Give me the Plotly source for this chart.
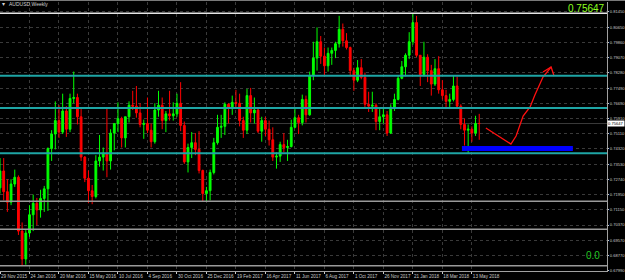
import plotly.graph_objects as go

# ---- data: AUDUSD weekly candles (bar index 0 = week of 29 Nov 2015) ----
opens = [0.7230,0.7318,0.7210,0.7155,0.7250,0.7285,0.7005,0.6860,0.6995,0.7090,
         0.7150,0.7115,0.7175,0.7225,0.7435,0.7510,0.7580,0.7520,0.7630,0.7535,
         0.7695,0.7700,0.7600,0.7390,0.7280,0.7215,0.7185,0.7370,0.7390,0.7410,
         0.7370,0.7515,0.7565,0.7590,0.7490,0.7600,0.7660,0.7655,0.7620,0.7560,
         0.7565,0.7530,0.7470,0.7635,0.7660,0.7580,0.7615,0.7605,0.7615,0.7670,
         0.7555,0.7365,0.7440,0.7465,0.7430,0.7320,0.7200,0.7215,0.7310,0.7465,
         0.7545,0.7550,0.7665,0.7645,0.7675,0.7670,0.7580,0.7530,0.7710,0.7620,
         0.7635,0.7525,0.7580,0.7535,0.7480,0.7390,0.7395,0.7455,0.7440,0.7445,
         0.7545,0.7595,0.7570,0.7690,0.7610,0.7815,0.7905,0.7990,0.7915,0.7865,
         0.7930,0.7945,0.7980,0.8055,0.7995,0.7960,0.7840,0.7790,0.7855,0.7805,
         0.7665,0.7655,0.7660,0.7575,0.7600,0.7610,0.7515,0.7650,0.7690,0.7800,
         0.7860,0.7920,0.7990,0.8090,0.7920,0.7820,0.7910,0.7840,0.7770,0.7850,
         0.7740,0.7710,0.7680,0.7690,0.7760,0.7655,0.7560,0.7530,0.7535,0.7515,
         0.7565]
highs = [0.7385,0.7385,0.7275,0.7275,0.7325,0.7295,0.7050,0.7010,0.7140,0.7195,
         0.7178,0.7220,0.7240,0.7440,0.7530,0.7680,0.7660,0.7720,0.7655,0.7720,
         0.7835,0.7720,0.7640,0.7395,0.7320,0.7245,0.7400,0.7505,0.7440,0.7650,
         0.7535,0.7550,0.7675,0.7600,0.7600,0.7680,0.7735,0.7760,0.7670,0.7585,
         0.7700,0.7565,0.7670,0.7735,0.7700,0.7630,0.7735,0.7675,0.7720,0.7780,
         0.7575,0.7460,0.7520,0.7515,0.7525,0.7325,0.7235,0.7325,0.7490,0.7610,
         0.7610,0.7675,0.7670,0.7710,0.7740,0.7720,0.7600,0.7745,0.7750,0.7700,
         0.7640,0.7600,0.7600,0.7580,0.7545,0.7415,0.7470,0.7515,0.7480,0.7585,
         0.7640,0.7610,0.7715,0.7710,0.7835,0.7990,0.8065,0.8020,0.7960,0.7960,
         0.7960,0.7990,0.8125,0.8085,0.8035,0.7965,0.7855,0.7895,0.7900,0.7830,
         0.7730,0.7730,0.7670,0.7640,0.7645,0.7630,0.7665,0.7720,0.7815,0.7890,
         0.7930,0.8040,0.8136,0.8125,0.7920,0.7990,0.7925,0.7870,0.7900,0.7915,
         0.7790,0.7740,0.7720,0.7815,0.7810,0.7665,0.7590,0.7560,0.7550,0.7605,
         0.7615]
lows = [0.7200,0.7165,0.7105,0.7140,0.7235,0.6985,0.6827,0.6830,0.6975,0.7005,
        0.7035,0.7075,0.7105,0.7110,0.7370,0.7430,0.7490,0.7510,0.7495,0.7520,
        0.7670,0.7560,0.7370,0.7260,0.7150,0.7145,0.7175,0.7340,0.7320,0.7285,
        0.7325,0.7425,0.7520,0.7440,0.7440,0.7570,0.7635,0.7595,0.7545,0.7485,
        0.7515,0.7440,0.7460,0.7600,0.7535,0.7520,0.7580,0.7580,0.7600,0.7525,
        0.7355,0.7310,0.7385,0.7400,0.7305,0.7160,0.7160,0.7165,0.7300,0.7455,
        0.7490,0.7505,0.7565,0.7610,0.7640,0.7550,0.7490,0.7510,0.7570,0.7565,
        0.7515,0.7470,0.7500,0.7450,0.7370,0.7330,0.7365,0.7415,0.7370,0.7440,
        0.7540,0.7510,0.7555,0.7570,0.7605,0.7790,0.7840,0.7875,0.7810,0.7835,
        0.7870,0.7905,0.7960,0.7965,0.7950,0.7810,0.7735,0.7780,0.7795,0.7650,
        0.7625,0.7625,0.7530,0.7530,0.7565,0.7500,0.7510,0.7630,0.7685,0.7795,
        0.7810,0.7900,0.7975,0.7910,0.7760,0.7810,0.7780,0.7710,0.7760,0.7720,
        0.7690,0.7640,0.7640,0.7680,0.7640,0.7535,0.7450,0.7412,0.7470,0.7500,
        0.7480]
closes = [0.7318,0.7210,0.7155,0.7250,0.7285,0.7005,0.6860,0.6995,0.7090,0.7150,
          0.7115,0.7175,0.7225,0.7435,0.7510,0.7580,0.7520,0.7630,0.7535,0.7695,
          0.7700,0.7600,0.7390,0.7280,0.7215,0.7185,0.7370,0.7390,0.7410,0.7370,
          0.7515,0.7565,0.7590,0.7490,0.7600,0.7660,0.7655,0.7620,0.7560,0.7565,
          0.7530,0.7470,0.7635,0.7660,0.7580,0.7615,0.7605,0.7615,0.7670,0.7555,
          0.7365,0.7440,0.7465,0.7430,0.7320,0.7200,0.7215,0.7310,0.7465,0.7545,
          0.7550,0.7665,0.7645,0.7675,0.7670,0.7580,0.7530,0.7710,0.7620,0.7635,
          0.7525,0.7580,0.7535,0.7480,0.7390,0.7395,0.7455,0.7440,0.7445,0.7545,
          0.7595,0.7570,0.7690,0.7610,0.7815,0.7905,0.7990,0.7915,0.7865,0.7930,
          0.7945,0.7980,0.8055,0.7995,0.7960,0.7840,0.7790,0.7855,0.7805,0.7665,
          0.7655,0.7660,0.7575,0.7600,0.7610,0.7515,0.7650,0.7690,0.7800,0.7860,
          0.7920,0.7990,0.8090,0.7920,0.7820,0.7910,0.7840,0.7770,0.7850,0.7740,
          0.7710,0.7680,0.7690,0.7760,0.7655,0.7560,0.7530,0.7535,0.7515,0.7565,
          0.75647]
bars = list(range(len(closes)))

# time-axis labels (every 8 weekly bars)
x_tick_bars = [0, 8, 16, 24, 32, 40, 48, 56, 64, 72, 80, 88, 96, 104, 112, 120, 128]
x_tick_text = ["29 Nov 2015", "24 Jan 2016", "20 Mar 2016", "15 May 2016", "10 Jul 2016",
               "4 Sep 2016", "30 Oct 2016", "25 Dec 2016", "19 Feb 2017", "16 Apr 2017",
               "11 Jun 2017", "6 Aug 2017", "1 Oct 2017", "26 Nov 2017", "21 Jan 2018",
               "18 Mar 2018", "13 May 2018"]

# price-axis labels
y_tick_vals = [0.81450, 0.80658, 0.79867, 0.79075, 0.78283, 0.77490, 0.76698, 0.75907,
               0.75115, 0.74323, 0.73532, 0.72740, 0.71948, 0.71157, 0.70365, 0.69573,
               0.68782, 0.67990]
y_tick_text = ["0.81450", "0.80650", "0.79860", "0.79070", "0.78280", "0.77490", "0.76690",
               "0.75910", "0.75110", "0.74320", "0.73530", "0.72740", "0.71950", "0.71150",
               "0.70370", "0.69570", "0.68770", "0.67990"]

current_price = 0.75647
white_level = [0.8138]
cyan_levels = [0.78136, 0.76455, 0.74098]
gray_levels = [0.71601, 0.70144, 0.68250]

# blue zone (bar index range, price range)
zone_x = [125.3, 155.4]
zone_y = [0.7422, 0.7448]

# hand-drawn red projection arrow (bar index, price)
arrow_x = [131.8, 138.6, 140.0, 141.9, 143.8, 145.1, 147.3, 149.5]
arrow_y = [0.75415, 0.74582, 0.74998, 0.76039, 0.76507, 0.77132, 0.78068, 0.78588]
head_x = [147.3, 149.5, 150.3]
head_y = [0.78328, 0.78588, 0.78120]

PLOT_W = 607
x_range = [0, 164.66]
y_range = [0.67974, 0.81970]

FONT = "Liberation Sans"
AXIS_FONT = 4.1

fig = go.Figure()

fig.add_trace(go.Candlestick(
    x=bars, open=opens, high=highs, low=lows, close=closes,
    increasing=dict(line=dict(color="#00ff00", width=1), fillcolor="#00ff00"),
    decreasing=dict(line=dict(color="#ff0000", width=1), fillcolor="#ff0000"),
    whiskerwidth=0, showlegend=False, hoverinfo="skip",
))

fig.add_trace(go.Scatter(x=arrow_x, y=arrow_y, mode="lines",
                         line=dict(color="#ff1010", width=1.3), showlegend=False, hoverinfo="skip"))
fig.add_trace(go.Scatter(x=head_x, y=head_y, mode="lines",
                         line=dict(color="#ff1010", width=1.3), showlegend=False, hoverinfo="skip"))

shapes = []
# current price line
shapes.append(dict(type="line", xref="paper", x0=0, x1=1, yref="y", y0=current_price, y1=current_price,
                   line=dict(color="#3a3a3a", width=1), layer="below"))
for v in white_level:
    shapes.append(dict(type="line", xref="paper", x0=0, x1=1, yref="y", y0=v, y1=v,
                       line=dict(color="#e6e6e6", width=1.5)))
for v in cyan_levels:
    shapes.append(dict(type="line", xref="paper", x0=0, x1=1, yref="y", y0=v, y1=v,
                       line=dict(color="#1ea5a5", width=2)))
for v in gray_levels:
    shapes.append(dict(type="line", xref="paper", x0=0, x1=1, yref="y", y0=v, y1=v,
                       line=dict(color="#9a9a9a", width=1.5)))
shapes.append(dict(type="rect", xref="x", yref="y", x0=zone_x[0], x1=zone_x[1],
                   y0=zone_y[0], y1=zone_y[1], fillcolor="#0000ff", line=dict(width=0)))
# window top border
shapes.append(dict(type="line", xref="paper", yref="paper", x0=0, x1=1.03, y0=1.006, y1=1.006,
                   line=dict(color="#8a8a8a", width=1)))

annotations = [
    dict(text="\u25be", xref="paper", yref="paper", x=0.0, y=0.992, xanchor="left", yanchor="middle",
         showarrow=False, font=dict(family=FONT, size=6, color="#d0d0d0")),
    dict(text="AUDUSD,Weekly", xref="paper", yref="paper", x=7 / PLOT_W, y=0.992, xanchor="left",
         yanchor="middle", showarrow=False, font=dict(family=FONT, size=5, color="#d0d0d0")),
    dict(text="0.75647", xref="paper", yref="paper", x=1.0, y=0.974, xanchor="right",
         yanchor="middle", showarrow=False, font=dict(family=FONT, size=10, color="#8cff1e")),
    dict(text="0.0", xref="paper", yref="paper", x=592.5 / PLOT_W, y=1 - (255.5 - 2) / 269,
         xanchor="center", yanchor="middle", showarrow=False,
         font=dict(family=FONT, size=10, color="#22c822")),
    dict(text="0.75647", xref="paper", yref="y", x=1.0, y=current_price, xanchor="left",
         yanchor="middle", showarrow=False, bgcolor="#ffffff", borderpad=0,
         font=dict(family=FONT, size=AXIS_FONT, color="#000000")),
]

fig.update_layout(
    width=625, height=280,
    margin=dict(l=0, r=625 - PLOT_W, t=2, b=9, pad=0),
    paper_bgcolor="#000000", plot_bgcolor="#000000",
    shapes=shapes, annotations=annotations,
    showlegend=False,
    xaxis=dict(
        range=x_range, rangeslider=dict(visible=False), automargin=False,
        tickmode="array", tickvals=x_tick_bars, ticktext=x_tick_text,
        ticklabelposition="outside right", tickangle=0,
        tickfont=dict(family=FONT, size=4.6, color="#c8c8c8"),
        ticks="outside", ticklen=2, tickcolor="#c8c8c8",
        showgrid=True, gridcolor="#3a3a3a", griddash="dot", gridwidth=1,
        showline=True, linecolor="#a0a0a0", linewidth=1, zeroline=False,
    ),
    yaxis=dict(
        range=y_range, side="right", automargin=False,
        tickmode="array", tickvals=y_tick_vals, ticktext=y_tick_text,
        tickfont=dict(family=FONT, size=AXIS_FONT, color="#c8c8c8"),
        ticks="outside", ticklen=1, tickcolor="#c8c8c8",
        showgrid=True, gridcolor="#3a3a3a", griddash="dot", gridwidth=1,
        showline=True, linecolor="#a0a0a0", linewidth=1, zeroline=False,
    ),
)

fig.write_html("out.html")
